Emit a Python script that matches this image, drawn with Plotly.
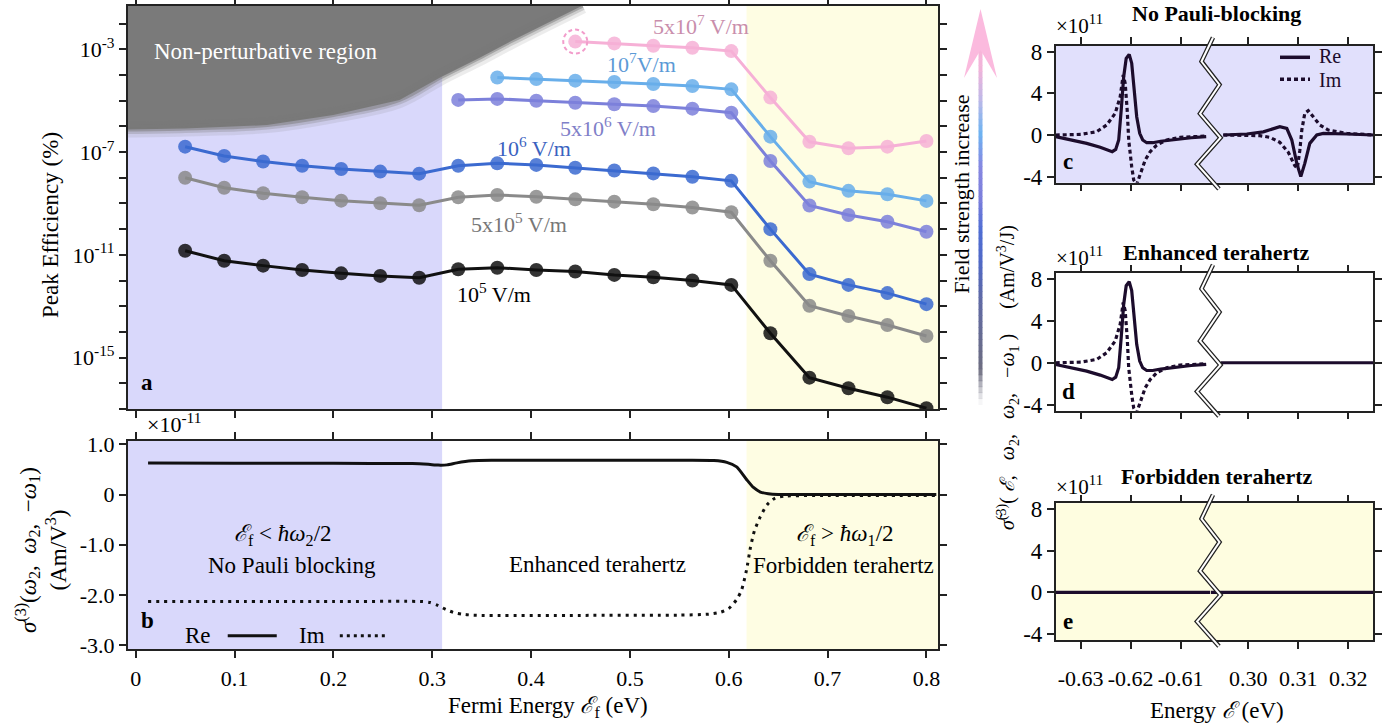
import plotly.graph_objects as go

W, H = 1393, 727
def PX(p): return p / W
def PY(p): return 1 - p / H

FONT = "Liberation Serif, Times New Roman, DejaVu Serif, serif"
INK = "#222222"
NB = "\u00a0"

# ---------------- Panel a : peak efficiency (log10 of %) ----------------
fermi = [0.05, 0.0895, 0.1289, 0.1684, 0.2079, 0.2474, 0.2868, 0.3263, 0.3658, 0.4053,
         0.4447, 0.4842, 0.5237, 0.5632, 0.6026, 0.6421, 0.6816, 0.7211, 0.7605, 0.80]
eff_1e5_log = [-10.84, -11.23, -11.42, -11.59, -11.72, -11.82, -11.89, -11.56, -11.50, -11.59,
               -11.65, -11.78, -11.87, -12.00, -12.17, -14.05, -15.78, -16.19, -16.54, -16.97]
eff_5e5_log = [-8.00, -8.39, -8.60, -8.76, -8.89, -8.99, -9.07, -8.76, -8.67, -8.74,
               -8.84, -8.93, -9.03, -9.16, -9.34, -11.23, -12.98, -13.38, -13.73, -14.16]
eff_1e6_log = [-6.79, -7.15, -7.37, -7.53, -7.66, -7.76, -7.84, -7.53, -7.44, -7.50,
               -7.61, -7.72, -7.83, -7.96, -8.12, -10.00, -11.75, -12.17, -12.49, -12.92]
eff_5e6_log = [-4.97, -4.93, -5.00, -5.08, -5.14, -5.21, -5.31, -5.47, -7.35, -9.08, -9.45, -9.71, -10.10]
eff_1e7_log = [-4.10, -4.16, -4.22, -4.27, -4.35, -4.43, -4.56, -6.40, -8.15, -8.51, -8.64, -8.90]
eff_5e7_log = [-2.70, -2.77, -2.86, -2.94, -3.07, -4.88, -6.60, -6.85, -6.79, -6.57]

series = [
    ("10<sup>5</sup> V/m", eff_1e5_log, "#111111", "#000000", 0.362, -12.48),
    ("5x10<sup>5</sup> V/m", eff_5e5_log, "#8a8a8a", "#777777", 0.388, -9.76),
    ("10<sup>6</sup> V/m", eff_1e6_log, "#3b6ad0", "#3a62c0", 0.403, -6.80),
    ("5x10<sup>6</sup> V/m", eff_5e6_log, "#7c80da", "#7f80c8", 0.478, -6.02),
    ("10<sup>7</sup>V/m", eff_1e7_log, "#68aeea", "#5b9ad6", 0.512, -3.53),
    ("5x10<sup>7</sup> V/m", eff_5e7_log, "#f6b0d6", "#c98eac", 0.572, -2.05),
]

# Non-perturbative region boundary (log10 %)
np_x = [-0.0081, 0.05, 0.133, 0.2, 0.267, 0.308, 0.348, 0.38, 0.452]
np_log = [-6.12, -6.08, -5.95, -5.56, -4.97, -4.10, -3.33, -2.68, -1.30]

# ---------------- Panel b : sigma(3) (x1e-11) ----------------
b_x_re = [0.0125, 0.1, 0.2, 0.28, 0.296, 0.306, 0.315, 0.325, 0.34, 0.36, 0.45, 0.55, 0.585,
          0.598, 0.608, 0.618, 0.625, 0.632, 0.64, 0.65, 0.7, 0.81]
b_re = [0.625, 0.622, 0.62, 0.615, 0.60, 0.585, 0.59, 0.63, 0.67, 0.68, 0.68, 0.68, 0.675,
        0.64, 0.55, 0.30, 0.14, 0.05, 0.015, 0.0, 0.0, 0.0]
b_x_im = [0.0125, 0.1, 0.2, 0.29, 0.298, 0.305, 0.314, 0.322, 0.33, 0.34, 0.35, 0.45, 0.55,
          0.58, 0.592, 0.6, 0.608, 0.613, 0.618, 0.622, 0.626, 0.632, 0.639, 0.647, 0.658, 0.7, 0.81]
b_im = [-2.13, -2.13, -2.13, -2.13, -2.15, -2.20, -2.29, -2.35, -2.38, -2.40, -2.405, -2.405, -2.40,
        -2.38, -2.34, -2.27, -2.09, -1.90, -1.50, -1.05, -0.72, -0.44, -0.20, -0.07, -0.03, -0.02, -0.02]

# ---------------- Panels c-e : sigma~(3) (x1e11) ----------------
cl_x_re = [-0.635, -0.6322, -0.6288, -0.6261, -0.6237, -0.623, -0.6224, -0.6219, -0.6214, -0.6209,
           -0.6203, -0.6198, -0.6193, -0.6188, -0.6182, -0.6176, -0.6168, -0.6156, -0.614, -0.6113,
           -0.6079, -0.6049]
cl_re = [-0.16, -0.42, -0.80, -1.18, -1.60, -1.38, -0.48, 2.4, 5.6, 7.36,
         7.74, 6.9, 4.3, 1.76, 0.16, -0.48, -0.74, -0.74, -0.60, -0.42,
         -0.26, -0.16]
cl_x_im = [-0.635, -0.630, -0.6268, -0.6248, -0.6231, -0.6221, -0.6215, -0.6211, -0.6207, -0.6204,
           -0.6198, -0.6194, -0.6188, -0.6181, -0.6171, -0.6161, -0.6148, -0.6128, -0.6101, -0.6049]
cl_im = [0.0, 0.06, 0.32, 0.96, 2.08, 3.68, 5.76, 4.96, 2.4, -0.48,
         -3.04, -4.32, -4.75, -3.68, -2.4, -1.6, -0.96, -0.48, -0.22, -0.10]
cr_x_re = [0.295, 0.2997, 0.303, 0.3063, 0.3077, 0.3087, 0.3097, 0.3105, 0.3113, 0.3123,
           0.3137, 0.315, 0.3197, 0.325]
cr_re = [0.0, 0.1, 0.3, 0.8, 0.64, -0.48, -2.72, -4.0, -2.72, -0.8,
         0.0, 0.16, 0.1, 0.0]
cr_x_im = [0.295, 0.3023, 0.3043, 0.3063, 0.308, 0.3093, 0.3098, 0.3103, 0.3107, 0.3113,
           0.312, 0.313, 0.3143, 0.316, 0.3197, 0.325]
cr_im = [0.0, -0.06, -0.22, -0.70, -1.66, -2.94, -3.2, -1.5, 0.48, 2.08,
         2.34, 1.76, 0.96, 0.48, 0.16, 0.0]
flat_l_x = [-0.635, -0.604]
flat_r_x = [0.2925, 0.325]
flat_d_x = [0.2945, 0.325]
flat_y = [0.0, 0.0]

fig = go.Figure()

TICKF = dict(family=FONT, size=22, color="black")
def ax(**kw):
    d = dict(showline=True, linecolor=INK, linewidth=1.5, ticks="outside", ticklen=7,
             tickwidth=1.5, tickcolor=INK, showgrid=False, zeroline=False, mirror="ticks",
             automargin=False, tickfont=TICKF)
    d.update(kw)
    return d

XR = [-0.0081, 0.8117]
YLR = [-17.0, -1.315]
A_L, A_R, A_T, A_B = 127.7, 938, 6, 409
xdom_ab = [PX(A_L), PX(A_R)]
xt = [0, 0.1, 0.2, 0.3, 0.4, 0.5, 0.6, 0.7, 0.8]
xtt = ["0", "0.1", "0.2", "0.3", "0.4", "0.5", "0.6", "0.7", "0.8"]

ylog_vals = [10.0 ** k for k in range(-17, -1)]
ylog_text = ["10<sup>%d</sup>" % k if k in (-3, -7, -11, -15) else "" for k in range(-17, -1)]

layout_axes = dict(
    xaxis=ax(domain=xdom_ab, range=XR, anchor="y", tickvals=xt, showticklabels=False),
    yaxis=ax(domain=[PY(A_B), PY(A_T)], type="log", range=YLR, anchor="x",
             tickvals=ylog_vals, ticktext=ylog_text),
    xaxis2=ax(domain=xdom_ab, range=XR, anchor="y2", tickvals=xt, ticktext=xtt, ticklabelstandoff=2),
    yaxis2=ax(domain=[PY(649.3), PY(441)], range=[-3.08, 1.065], anchor="x2",
              tickvals=[1, 0, -1, -2, -3], ticktext=["1.0", "0", "-1.0", "-2.0", "-3.0"]),
)

BRK = 1210
xL_dom = [PX(1055.7), PX(BRK)]
xR_dom = [PX(BRK), PX(1373.3)]
xL_rng = [-0.635, -0.635 + (BRK - 1055.7) / 5000]
xR_rng = [0.30 - (1248.3 - BRK) / 5000, 0.30 + (1373.3 - 1248.3) / 5000]
YR = [-4.58, 8.55]
ydoms = {"c": [PY(182.7), PY(46)], "d": [PY(410.7), PY(273.3)], "e": [PY(640), PY(503.3)]}
pan_idx = {"c": (3, 4), "d": (5, 6), "e": (7, 8)}
for p, (iL, iR) in pan_idx.items():
    lab = p == "e"
    layout_axes["xaxis%d" % iL] = ax(domain=xL_dom, range=xL_rng, anchor="y%d" % iL,
                                     tickvals=[-0.63, -0.62, -0.61], ticklabelstandoff=11,
                                     ticktext=["-0.63", "-0.62", "-0.61"], showticklabels=lab)
    layout_axes["xaxis%d" % iR] = ax(domain=xR_dom, range=xR_rng, anchor="y%d" % iR,
                                     tickvals=[0.30, 0.31, 0.32], ticklabelstandoff=11,
                                     ticktext=["0.30", "0.31", "0.32"], showticklabels=lab)
    layout_axes["yaxis%d" % iL] = ax(domain=ydoms[p], range=YR, anchor="x%d" % iL, mirror=False,
                                     tickvals=[8, 4, 0, -4], ticktext=["8", "4", "0", "-4"],
                                     tickfont=dict(family=FONT, size=23, color="black"))
    layout_axes["yaxis%d" % iR] = ax(domain=ydoms[p], range=YR, anchor="x%d" % iR, mirror=False,
                                     side="right", tickvals=[8, 4, 0, -4], showticklabels=False)

shapes = []
annotations = []

def pnote(x, y, text, size=23, color="black", xa="center", ya="middle", angle=0):
    annotations.append(dict(x=PX(x), y=PY(y), xref="paper", yref="paper", text=text,
                            xanchor=xa, yanchor=ya, textangle=angle, showarrow=False,
                            font=dict(family=FONT, size=size, color=color)))

def dnote(x, y, xr, yr, text, size=23, color="black", xa="center"):
    annotations.append(dict(x=x, y=y, xref=xr, yref=yr, text=text, xanchor=xa, yanchor="middle",
                            showarrow=False, font=dict(family=FONT, size=size, color=color)))

# ---------- backgrounds ----------
LAV = "#d9d8fb"
YEL = "#fefde3"
for xr, yr in (("x", "y domain"), ("x2", "y2 domain")):
    shapes.append(dict(type="rect", xref=xr, yref=yr, x0=XR[0], x1=0.31, y0=0, y1=1,
                       fillcolor=LAV, line=dict(width=0), layer="below"))
    shapes.append(dict(type="rect", xref=xr, yref=yr, x0=0.618, x1=XR[1], y0=0, y1=1,
                       fillcolor=YEL, line=dict(width=0), layer="below"))
for p, col in (("c", "#e1e0fc"), ("e", "#fefde0")):
    for i in pan_idx[p]:
        shapes.append(dict(type="rect", xref="x%d domain" % i, yref="y%d domain" % i,
                           x0=0, x1=1, y0=0, y1=1, fillcolor=col, line=dict(width=0), layer="below"))

# ---------- panel a traces ----------
np_vals = [10 ** v for v in np_log]
fig.add_trace(go.Scatter(x=np_x + [np_x[-1], np_x[0]], y=np_vals + [1e-1, 1e-1], fill="toself",
                         fillcolor="#7a7a7a", line=dict(width=0), mode="lines",
                         xaxis="x", yaxis="y", hoverinfo="skip", showlegend=False))
for wd, al in ((16, 0.14), (9, 0.28), (4, 0.5)):
    fig.add_trace(go.Scatter(x=np_x, y=np_vals, mode="lines", line_shape="spline",
                             line=dict(color="rgba(122,122,122,%g)" % al, width=wd),
                             xaxis="x", yaxis="y", hoverinfo="skip", showlegend=False))

for name, vals, col, tcol, lx, ly in series:
    xs = fermi[len(fermi) - len(vals):]
    fig.add_trace(go.Scatter(x=xs, y=[10 ** v for v in vals], mode="lines+markers",
                             line=dict(color=col, width=3),
                             marker=dict(size=14, color=col, opacity=0.85),
                             xaxis="x", yaxis="y", name=name, showlegend=False))
    dnote(lx, ly, "x", "y", name, size=22, color=tcol)

# dashed circle (radius ~12 px) around the first 5x10^7 point
xpp = (XR[1] - XR[0]) / (A_R - A_L)
ypp = (YLR[1] - YLR[0]) / (A_B - A_T)
cx0 = fermi[len(fermi) - len(eff_5e7_log)]
cy0 = eff_5e7_log[0]
shapes.append(dict(type="circle", xref="x", yref="y",
                   x0=cx0 - 12 * xpp, x1=cx0 + 12 * xpp,
                   y0=10 ** (cy0 - 12 * ypp), y1=10 ** (cy0 + 12 * ypp),
                   line=dict(color="#f29ccb", width=2, dash="4px,3px"), layer="above"))

dnote(0.1316, -3.1, "x", "y", "Non-perturbative region", size=23, color="white")
dnote(0.003, -15.98, "x", "y", "<b>a</b>", size=23, xa="left")
pnote(50, 225, "Peak Efficiency (%)", angle=-90)

# ---------- panel b traces ----------
fig.add_trace(go.Scatter(x=b_x_re, y=b_re, mode="lines",
                         line=dict(color="#111", width=3, shape="spline", smoothing=0.6),
                         xaxis="x2", yaxis="y2", showlegend=False))
fig.add_trace(go.Scatter(x=b_x_im, y=b_im, mode="lines",
                         line=dict(color="#111", width=3, dash="3px,5px", shape="spline", smoothing=0.6),
                         xaxis="x2", yaxis="y2", showlegend=False))

pnote(145, 423, "×10<sup>-11</sup>", size=22, xa="left")
dnote(0.149, -0.80, "x2", "y2", "<i>ℰ</i><sub>f</sub>" + NB + "&lt;" + NB + "<i>ħω</i><sub>2</sub>/2")
dnote(0.158, -1.41, "x2", "y2", "No Pauli blocking")
dnote(0.467, -1.40, "x2", "y2", "Enhanced terahertz")
dnote(0.718, -0.80, "x2", "y2", "<i>ℰ</i><sub>f</sub>" + NB + "&gt;" + NB + "<i>ħω</i><sub>1</sub>/2")
dnote(0.716, -1.41, "x2", "y2", "Forbidden terahertz")
dnote(0.003, -2.50, "x2", "y2", "<b>b</b>", xa="left")
dnote(0.063, -2.81, "x2", "y2", "Re")
dnote(0.178, -2.81, "x2", "y2", "Im")
pnote(41, 550, "<i>σ</i><sup>(3)</sup>(<i>ω</i><sub>2</sub>," + NB * 2 + "<i>ω</i><sub>2</sub>," + NB * 2 +
      "−<i>ω</i><sub>1</sub>)<br>(Am/V<sup>3</sup>)", angle=-90)
pnote(548, 707, "Fermi Energy" + NB + "<i>ℰ</i><sub>f</sub> (eV)")
shapes.append(dict(type="line", xref="x2", yref="y2", x0=0.0931, x1=0.1427, y0=-2.81, y1=-2.81,
                   line=dict(color="#111", width=3)))
shapes.append(dict(type="line", xref="x2", yref="y2", x0=0.2065, x1=0.2561, y0=-2.81, y1=-2.81,
                   line=dict(color="#111", width=3, dash="3px,4px")))

# ---------- panels c-e traces ----------
CC = "#1c0c2c"
def add_line(x, y, i, dash=None):
    ln = dict(color=CC, width=3.2)
    if dash:
        ln["dash"] = dash
    fig.add_trace(go.Scatter(x=x, y=y, mode="lines", line=ln, xaxis="x%d" % i, yaxis="y%d" % i,
                             showlegend=False))

for p in ("c", "d"):
    iL, iR = pan_idx[p]
    add_line(cl_x_im, cl_im, iL, "4px,3px")
    add_line(cl_x_re, cl_re, iL)
iL, iR = pan_idx["c"]
add_line(cr_x_im, cr_im, iR, "4px,3px")
add_line(cr_x_re, cr_re, iR)
iL, iR = pan_idx["d"]
add_line(flat_d_x, flat_y, iR)
iL, iR = pan_idx["e"]
add_line(flat_l_x, flat_y, iL)
add_line(flat_r_x, flat_y, iR)

titles = {"c": ("No Pauli-blocking", 13.3, 25, 161.7, 46),
          "d": ("Enhanced terahertz", 252.7, 256, 391.7, 273.3),
          "e": ("Forbidden terahertz", 476.7, 485, 621.7, 503.3)}
zig_x = [1213, 1201.5, 1219.5, 1200, 1220.5, 1197, 1219]
zig_dy = [-8.5, 15.5, 38.7, 67.7, 91.7, 118.2, 143]
for p, (t, ty, my, ly, top) in titles.items():
    pnote(1216.7, ty, "<b>%s</b>" % t, size=22)
    pnote(1054, my, "×10<sup>11</sup>", size=21, xa="left")
    pnote(1068, ly, "<b>%s</b>" % p, size=23)
    path = "M " + " L ".join("%.5f,%.5f" % (PX(zx), PY(top + dy)) for zx, dy in zip(zig_x, zig_dy))
    shapes.append(dict(type="path", xref="paper", yref="paper", path=path,
                       line=dict(color="#222", width=4.5), layer="above"))
    shapes.append(dict(type="path", xref="paper", yref="paper", path=path,
                       line=dict(color="white", width=2), layer="above"))

# legend of panel c
shapes.append(dict(type="line", xref="paper", yref="paper", x0=PX(1280), x1=PX(1310), y0=PY(57.3), y1=PY(57.3),
                   line=dict(color=CC, width=3.5), layer="above"))
shapes.append(dict(type="line", xref="paper", yref="paper", x0=PX(1280), x1=PX(1310), y0=PY(79.3), y1=PY(79.3),
                   line=dict(color=CC, width=3.5, dash="4px,3px"), layer="above"))
pnote(1317, 56.5, "Re", size=20, color=CC, xa="left")
pnote(1317, 80, "Im", size=20, color=CC, xa="left")

pnote(1216.7, 710, "Energy" + NB + "<i>ℰ</i>" + NB + "(eV)")
pnote(1008, 378, "<i>σ̃</i><sup>(3)</sup>(" + NB + "<i>ℰ</i>," + NB * 3 + "<i>ω</i><sub>2</sub>," + NB * 3 +
      "<i>ω</i><sub>2</sub>," + NB * 3 + "−<i>ω</i><sub>1</sub>" + NB + ")" + NB * 5 + "(Am/V<sup>3</sup>/J)",
      size=20, angle=-90)

# ---------- gradient arrow ----------
stops = [(405, (150, 150, 160, 0.0)), (370, (110, 110, 130, 1)), (300, (95, 105, 165, 1)),
         (260, (80, 105, 200, 1)), (230, (80, 110, 212, 1)), (200, (122, 126, 220, 1)),
         (167, (135, 135, 225, 1)), (133, (110, 180, 242, 1)), (100, (190, 185, 232, 1)),
         (70, (240, 180, 218, 1)), (48, (249, 182, 217, 1))]
def col_at(py):
    for (a, ca), (b, cb) in zip(stops[:-1], stops[1:]):
        if b <= py <= a:
            t = (a - py) / (a - b)
            c = [ca[k] + (cb[k] - ca[k]) * t for k in range(4)]
            return "rgba(%d,%d,%d,%.3f)" % (c[0], c[1], c[2], c[3])
    return "rgba(249,182,217,1)"
AX = 980.5
nseg = 60
y_top, y_bot = 48, 405
for k in range(nseg):
    a = y_bot - (y_bot - y_top) * k / nseg
    b = y_bot - (y_bot - y_top) * (k + 1) / nseg
    shapes.append(dict(type="line", xref="paper", yref="paper", x0=PX(AX), x1=PX(AX), y0=PY(a), y1=PY(b - 0.6),
                       line=dict(color=col_at((a + b) / 2), width=4), layer="above"))
head = "M %.5f,%.5f L %.5f,%.5f L %.5f,%.5f L %.5f,%.5f Z" % (
    PX(AX), PY(9), PX(997), PY(78), PX(AX), PY(50), PX(964), PY(78))
shapes.append(dict(type="path", xref="paper", yref="paper", path=head,
                   fillcolor="#fbbade", line=dict(width=0), layer="above"))
pnote(961.7, 194, "Field strength increase", size=22, angle=-90)

fig.update_layout(
    width=W, height=H, margin=dict(l=0, r=0, t=0, b=0, pad=0),
    paper_bgcolor="white", plot_bgcolor="white", showlegend=False,
    font=dict(family=FONT, color="black"),
    shapes=shapes, annotations=annotations, **layout_axes)

fig.write_html("out.html", config={"displayModeBar": False},
               post_script="document.body.style.margin='0px';document.body.style.overflow='hidden';")
